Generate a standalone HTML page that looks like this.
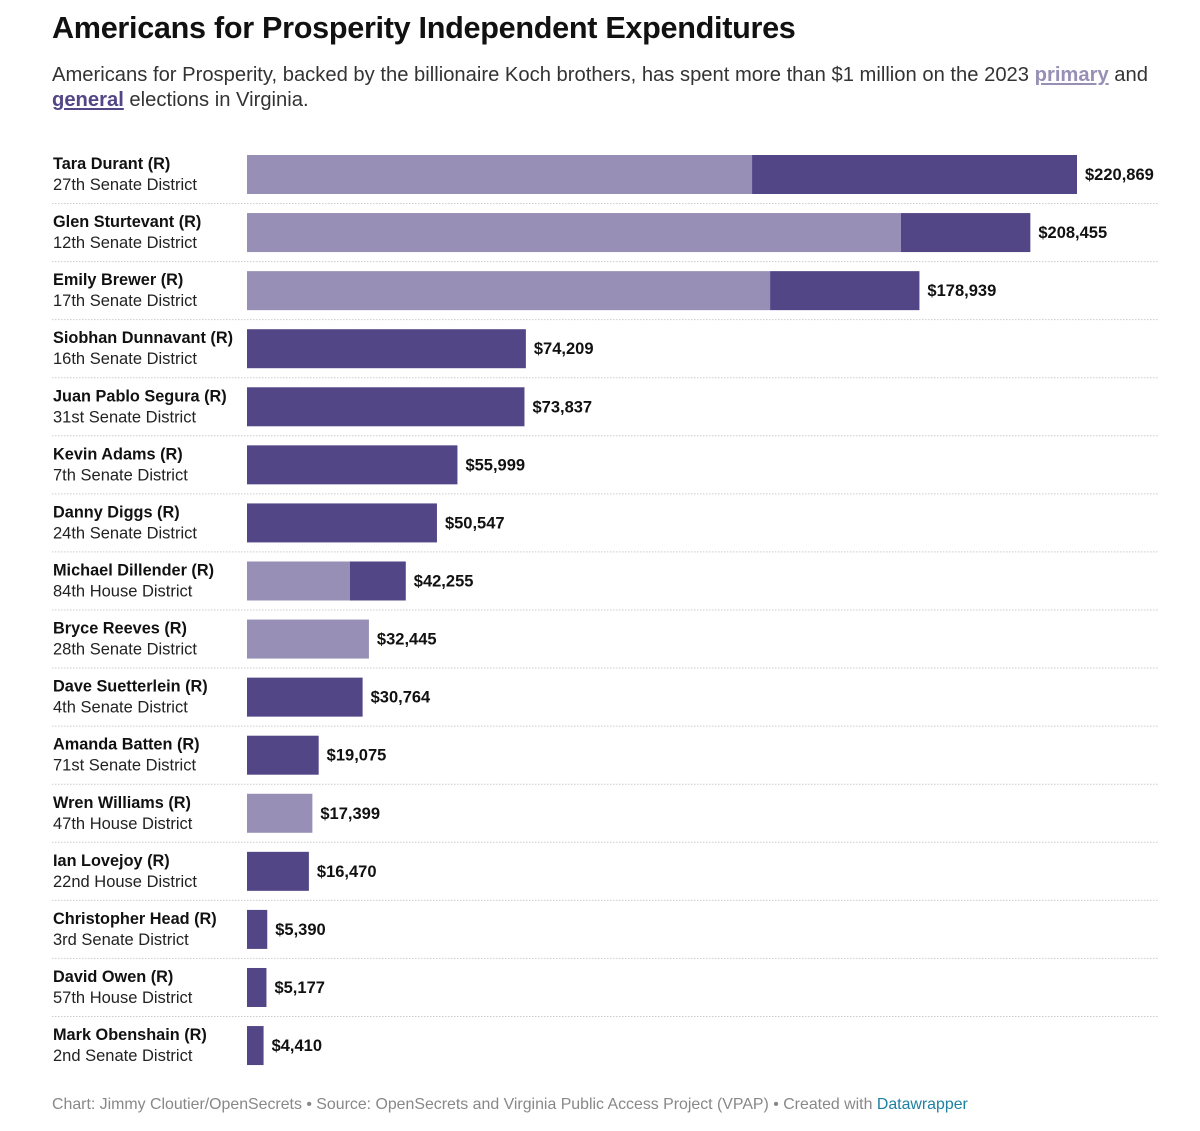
<!DOCTYPE html>
<html><head><meta charset="utf-8"><style>
body{margin:0;background:#fff;font-family:"Liberation Sans",sans-serif;color:#222;width:1200px;height:1131px;overflow:hidden;position:relative}
h1{position:absolute;left:52px;top:11px;margin:0;font-size:30.6px;font-weight:bold;color:#111;letter-spacing:-0.3px}
.sub{position:absolute;left:52px;top:63px;width:1130px;font-size:20.2px;line-height:25px;color:#333}
.sub a{font-weight:bold;text-decoration:underline}
.foot{position:absolute;left:52px;top:1096px;font-size:15.9px;color:#888}
.foot span{color:#1d81a2}
</style></head><body>
<h1>Americans for Prosperity Independent Expenditures</h1>
<div class="sub">Americans for Prosperity, backed by the billionaire Koch brothers, has spent more than $1 million on the 2023 <a style="color:#978fb5">primary</a> and <a style="color:#524687">general</a> elections in Virginia.</div>
<svg id="chart" width="1200" height="1131" style="position:absolute;left:0;top:0"></svg>
<div class="foot">Chart: Jimmy Cloutier/OpenSecrets • Source: OpenSecrets and Virginia Public Access Project (VPAP) • Created with <span>Datawrapper</span></div>
<script>
const names=["Tara Durant (R)","Glen Sturtevant (R)","Emily Brewer (R)","Siobhan Dunnavant (R)","Juan Pablo Segura (R)","Kevin Adams (R)","Danny Diggs (R)","Michael Dillender (R)","Bryce Reeves (R)","Dave Suetterlein (R)","Amanda Batten (R)","Wren Williams (R)","Ian Lovejoy (R)","Christopher Head (R)","David Owen (R)","Mark Obenshain (R)"];
const districts=["27th Senate District","12th Senate District","17th Senate District","16th Senate District","31st Senate District","7th Senate District","24th Senate District","84th House District","28th Senate District","4th Senate District","71st Senate District","47th House District","22nd House District","3rd Senate District","57th House District","2nd Senate District"];
const totals=[220869,208455,178939,74209,73837,55999,50547,42255,32445,30764,19075,17399,16470,5390,5177,4410];
const primary=[134400,174000,139200,0,0,0,0,27400,32445,0,0,17399,0,0,0,0];
const svg=document.getElementById('chart');const NS="http://www.w3.org/2000/svg";
const x0=247,scale=830/220869,top0=155,pitch=58.07,bh=39;
const xs=v=>x0+v*scale;
function mk(t,a){const e=document.createElementNS(NS,t);for(const k in a)e.setAttribute(k,a[k]);svg.appendChild(e);return e;}
totals.forEach((tot,i)=>{
 const y=top0+i*pitch;
 let t=mk('text',{x:53,y:y+14,'font-size':16.3,'font-weight':'bold',fill:'#111'});t.textContent=names[i];
 
 
 t=mk('text',{x:53,y:y+35,'font-size':16.5,fill:'#222'});t.textContent=districts[i];
 
 
 const p=primary[i];
 if(p>0){const r=mk('rect',{x:x0,y:y,width:xs(p)-x0,height:bh,fill:'#978fb5'});
  
  }
 if(tot>p){const r=mk('rect',{x:xs(p),y:y,width:xs(tot)-xs(p),height:bh,fill:'#524687'});
  
  }
 t=mk('text',{x:xs(tot)+8,y:y+25,'font-size':16.5,'font-weight':'bold',fill:'#111'});t.textContent='$'+tot.toLocaleString('en-US');
 
 
 if(i<totals.length-1){const l=mk('line',{x1:52,x2:1159,y1:y+48.5,y2:y+48.5,stroke:'#ccc','stroke-dasharray':'1.5 1.5'});
  
  }
});
</script>
</body></html>
